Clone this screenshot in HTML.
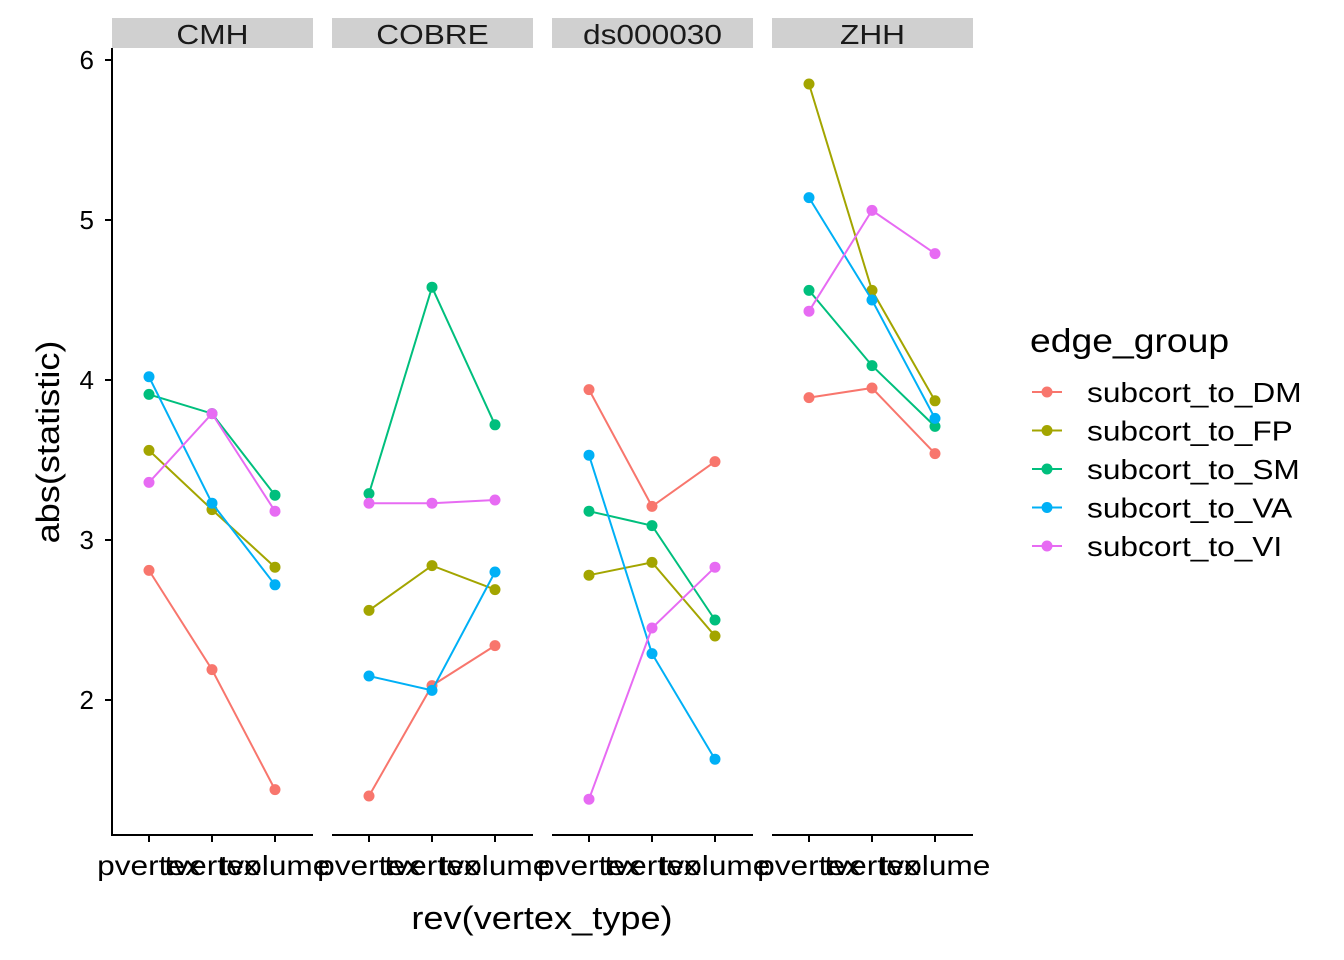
<!DOCTYPE html>
<html><head><meta charset="utf-8"><style>
html,body{margin:0;padding:0;background:#fff;}
svg{display:block;font-family:"Liberation Sans",Arial,sans-serif;}
</style></head><body>
<svg id="chart" width="1344" height="960"></svg>
<script>
const panels = ["CMH","COBRE","ds000030","ZHH"];
const xCats = ["pvertex","tvertex","tvolume"];
const groups = ["subcort_to_DM","subcort_to_FP","subcort_to_SM","subcort_to_VA","subcort_to_VI"];
const colors = ["#F8766D","#A3A500","#00BF7D","#00B0F6","#E76BF3"];
const yTicks = [2,3,4,5,6];
const valCMH = [[2.81,2.19,1.44],[3.56,3.19,2.83],[3.91,3.79,3.28],[4.02,3.23,2.72],[3.36,3.79,3.18]];
const valCOBRE = [[1.40,2.09,2.34],[2.56,2.84,2.69],[3.29,4.58,3.72],[2.15,2.06,2.80],[3.23,3.23,3.25]];
const valDS = [[3.94,3.21,3.49],[2.78,2.86,2.40],[3.18,3.09,2.50],[3.53,2.29,1.63],[1.38,2.45,2.83]];
const valZHH = [[3.89,3.95,3.54],[5.85,4.56,3.87],[4.56,4.09,3.71],[5.14,4.50,3.76],[4.43,5.06,4.79]];
const allVals = [valCMH,valCOBRE,valDS,valZHH];

const NS="http://www.w3.org/2000/svg";
const svg=document.getElementById('chart');
function mk(tag,attrs,parent){const e=document.createElementNS(NS,tag);for(const k in attrs)e.setAttribute(k,attrs[k]);(parent||svg).appendChild(e);return e;}
const widen=[];
const yS=v=>700-(v-2)*160;
const panelLeft=[112,332,552,772], panelW=201;
const xS=(p,i)=>panelLeft[p]+37+i*63;

const ya=mk('line',{x1:112,y1:48,x2:112,y2:836,stroke:'#000','stroke-width':2});


yTicks.forEach(t=>{
  const l=mk('line',{x1:105,x2:112,y1:yS(t),y2:yS(t),stroke:'#000','stroke-width':2});
  
  
  const tx=mk('text',{x:94,y:yS(t)+9,'text-anchor':'end','font-size':26,fill:'#000'});
  tx.textContent=t;
  
  
});

panels.forEach((name,p)=>{
  const L=panelLeft[p];
  const s=mk('rect',{x:L,y:18,width:panelW,height:30,fill:'#d0d0d0'});
  
  
  const st=mk('text',{x:L+panelW/2,y:44,'text-anchor':'middle','font-size':28,fill:'#1a1a1a'});
  st.textContent=name;
  
  
  widen.push(st);
  const xa=mk('line',{x1:L,x2:L+panelW,y1:835,y2:835,stroke:'#000','stroke-width':2});
  
  
  xCats.forEach((c,i)=>{
    const t=mk('line',{x1:xS(p,i),x2:xS(p,i),y1:835,y2:842,stroke:'#000','stroke-width':2});
    
    
    const tx=mk('text',{x:xS(p,i),y:875,'text-anchor':'middle','font-size':28,fill:'#000'});
    tx.textContent=c;
    
    
    widen.push(tx);
  });
  allVals[p].forEach((vals,g)=>{
    const pts=vals.map((v,i)=>xS(p,i)+','+yS(v)).join(' ');
    const pl=mk('polyline',{points:pts,fill:'none',stroke:colors[g],'stroke-width':2});
    
    
    vals.forEach((v,i)=>{
      const c=mk('circle',{cx:xS(p,i),cy:yS(v),r:5.5,fill:colors[g]});
      
      
    });
  });
});

const xt=mk('text',{x:542,y:929,'text-anchor':'middle','font-size':32,fill:'#000'});
xt.textContent='rev(vertex_type)';


widen.push(xt);
const yt=mk('text',{x:0,y:0,'text-anchor':'middle','font-size':32,fill:'#000',transform:'translate(59,442) rotate(-90)'});
yt.textContent='abs(statistic)';


widen.push(yt);

const lt=mk('text',{x:1030,y:352,'font-size':33,fill:'#000'});
lt.textContent='edge_group';


widen.push(lt);
groups.forEach((g,i)=>{
  const y=392+i*38.5;
  const l=mk('line',{x1:1032,x2:1062,y1:y,y2:y,stroke:colors[i],'stroke-width':2});
  
  
  const c=mk('circle',{cx:1047,cy:y,r:5.5,fill:colors[i]});
  
  
  const t=mk('text',{x:1087,y:y+10,'font-size':28,fill:'#000'});
  t.textContent=g;
  
  
  widen.push(t);
});
widen.forEach(t=>{
  const w=t.getComputedTextLength();
  t.setAttribute('textLength',(w*1.13).toFixed(1));
  t.setAttribute('lengthAdjust','spacingAndGlyphs');
});
</script>
</body></html>
